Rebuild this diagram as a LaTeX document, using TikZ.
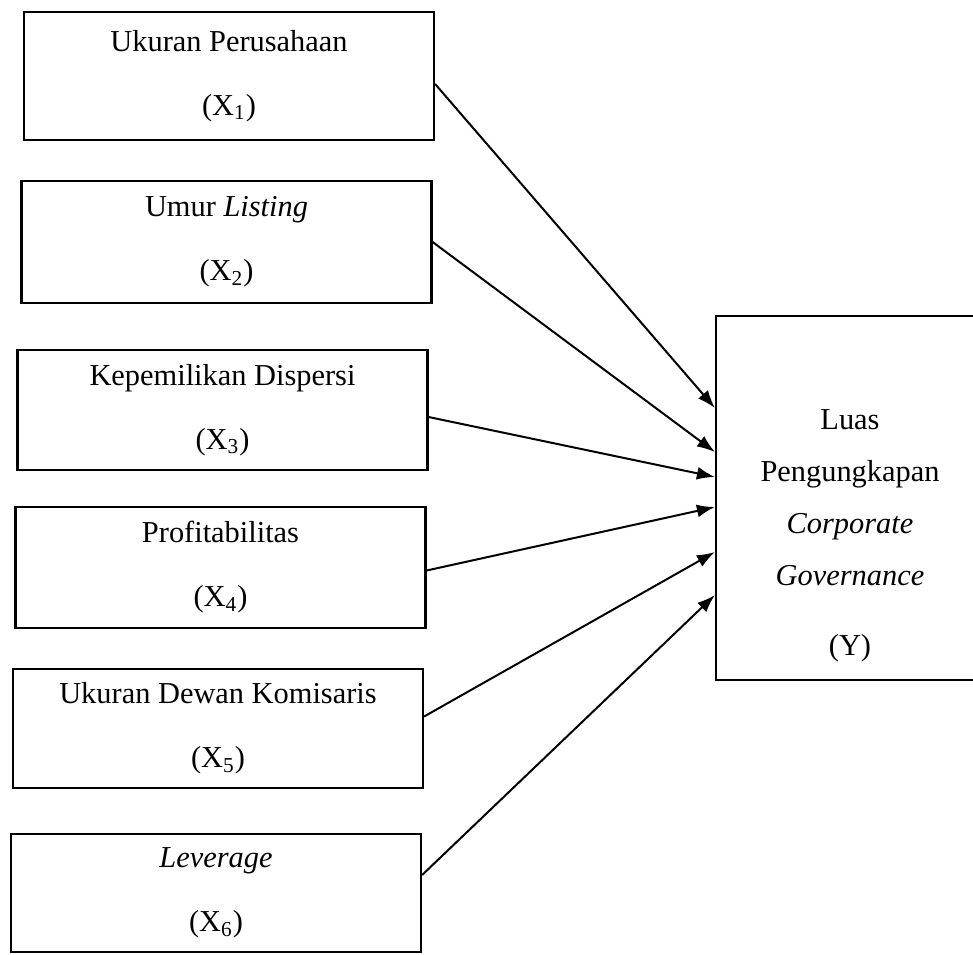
\documentclass[tikz,border=0pt]{standalone}
\usepackage{fontspec}
\setmainfont{Liberation Serif}
\usetikzlibrary{arrows.meta}
\begin{document}
\begin{tikzpicture}[x=0.5pt,y=-0.5pt,
  varbox/.style={draw,line width=1.1pt,align=center,inner sep=0pt,
    minimum width=205pt,font=\fontsize{15.2}{32}\selectfont},
  depbox/.style={draw,line width=1.1pt,inner sep=0pt},
  deptext/.style={align=center,inner sep=0pt,font=\fontsize{15.2}{26}\selectfont},
  link/.style={line width=1pt,-{Latex[length=9pt,width=6.5pt]}}]
\useasboundingbox (0,0) rectangle (973,954);
\clip (0,0) rectangle (973,954);
\node[varbox,minimum height=64pt] (x1) at (229,76) {Ukuran Perusahaan\\(X\textsubscript{1})};
\node[varbox,minimum height=61pt] (x2) at (226.5,242) {Umur \textit{Listing}\\(X\textsubscript{2})};
\node[varbox,minimum height=60pt] (x3) at (222.5,410) {Kepemilikan Dispersi\\(X\textsubscript{3})};
\node[varbox,minimum height=60.5pt] (x4) at (220.5,567.5) {Profitabilitas\\(X\textsubscript{4})};
\node[varbox,minimum height=59.5pt] (x5) at (218,728.5) {Ukuran Dewan Komisaris\\(X\textsubscript{5})};
\node[varbox,minimum height=59pt] (x6) at (216,893) {\textit{Leverage}\\(X\textsubscript{6})};
\node[depbox,minimum width=142pt,minimum height=182pt] (y) at (858,498) {};
\node[deptext] (ytext) at (850,536) {Luas\\Pengungkapan\\\textit{Corporate}\\\textit{Governance}\\[9pt](Y)};
\draw[link] ([yshift=-4pt]x1.east) -- ([yshift=45pt]y.west);
\draw[link] (x2.east) -- ([yshift=23pt]y.west);
\draw[link] ([yshift=-3.5pt]x3.east) -- ([yshift=10.5pt]y.west);
\draw[link] ([yshift=-1.5pt]x4.east) -- ([yshift=-4.5pt]y.west);
\draw[link] ([yshift=6pt]x5.east) -- ([yshift=-27pt]y.west);
\draw[link] ([yshift=9pt]x6.east) -- ([yshift=-48.5pt]y.west);
\end{tikzpicture}
\end{document}
